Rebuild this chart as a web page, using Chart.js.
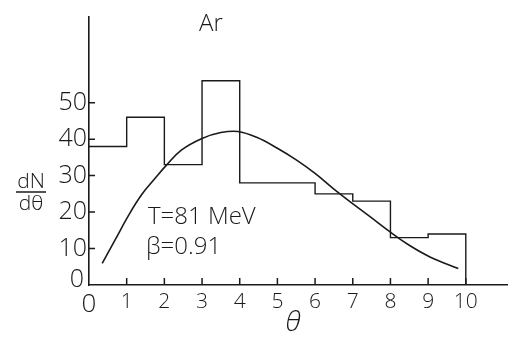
<!DOCTYPE html>
<html>
<head>
<meta charset="utf-8">
<script src="https://cdn.jsdelivr.net/npm/chart.js@4"></script>
<style>
  html, body { margin: 0; padding: 0; background: #fff; }
  canvas { display: block; }
</style>
</head>
<body>
<canvas id="chart" width="508" height="337"></canvas>
<script>
// histogram: counts per bin, bin i covers [i, i+1]
const binEdges = [0, 1, 2, 3, 4, 5, 6, 7, 8, 9, 10];
const counts = [38, 46, 33, 56, 28, 28, 25, 23, 13, 14];

// fitted curve
const curveX = [0.35, 0.7, 1.05, 1.4, 1.75, 2.05, 2.45, 3.0, 3.5, 3.95, 4.45, 5.0, 5.5, 6.0, 6.5, 7.05, 7.45, 8.0, 8.5, 9.05, 9.8];
const curveY = [5.9, 12.5, 19.1, 24.8, 29.2, 32.8, 37.0, 40.2, 41.8, 42.1, 40.5, 37.5, 34.3, 30.6, 26.3, 21.9, 18.8, 14.5, 10.9, 7.7, 4.5];

const xTicks = [0, 1, 2, 3, 4, 5, 6, 7, 8, 9, 10];
const yTicks = [0, 10, 20, 30, 40, 50];

const FONT = "'Open Sans', 'DejaVu Sans', sans-serif";
const W = 300;
const INK = '#1a1a1a';

const histPoints = counts.map((c, i) => ({ x: binEdges[i], y: c }));
histPoints.push({ x: binEdges[binEdges.length - 1], y: 0 });

const curvePoints = curveX.map((x, i) => ({ x, y: curveY[i] }));

// tick marks point into the plot, and the loose labels
const decor = {
  id: 'decor',
  afterDraw(chart) {
    const ctx = chart.ctx;
    const xs = chart.scales.x, ys = chart.scales.y;
    const x0 = xs.getPixelForValue(0), y0 = ys.getPixelForValue(0);
    ctx.save();
    ctx.strokeStyle = INK;
    ctx.lineWidth = 1.5;
    ctx.beginPath();
    xTicks.forEach(v => {
      if (v === 0) return;
      const px = xs.getPixelForValue(v);
      ctx.moveTo(px, y0);
      ctx.lineTo(px, y0 - 7);
    });
    yTicks.forEach(v => {
      if (v === 0) return;
      const py = ys.getPixelForValue(v);
      ctx.moveTo(x0, py);
      ctx.lineTo(x0 + 6, py);
    });
    ctx.stroke();

    ctx.fillStyle = INK;
    ctx.textBaseline = 'alphabetic';
    ctx.textAlign = 'right';
    // y "0" sits a little above the axis corner
    ctx.font = W + ' 25px ' + FONT;
    ctx.fillText('0', 84, 287);

    ctx.textAlign = 'left';
    ctx.font = W + ' 24px ' + FONT;
    ctx.fillText('Ar', 199, 31);
    ctx.fillText('T=81 MeV', 148, 224);
    ctx.fillText('\u03B2=0.91', 146, 254);

    ctx.font = W + ' 21px ' + FONT;
    ctx.textAlign = 'center';
    ctx.fillText('dN', 31, 188);
    ctx.fillText('d\u03B8', 31, 210);
    ctx.beginPath();
    ctx.lineWidth = 1.5;
    ctx.moveTo(16, 192);
    ctx.lineTo(46, 192);
    ctx.stroke();

    ctx.font = 'italic ' + W + ' 28px ' + FONT;
    ctx.fillText('\u03B8', 293, 331);
    ctx.restore();
  }
};

new Chart(document.getElementById('chart'), {
  type: 'line',
  data: {
    datasets: [
      {
        data: histPoints,
        stepped: 'before',
        borderColor: INK,
        borderWidth: 1.4,
        pointRadius: 0,
        fill: false
      },
      {
        data: curvePoints,
        borderColor: INK,
        borderWidth: 1.6,
        pointRadius: 0,
        tension: 0.4,
        fill: false
      }
    ]
  },
  options: {
    responsive: false,
    animation: false,
    devicePixelRatio: 1,
    layout: { padding: { top: 5, right: 0, bottom: 0, left: 0 } },
    plugins: { legend: { display: false }, tooltip: { enabled: false } },
    scales: {
      x: {
        type: 'linear',
        min: 0,
        max: 11.12,
        afterBuildTicks: s => { s.ticks = xTicks.map(v => ({ value: v })); },
        afterFit: s => { s.height = 52; },
        grid: { display: false, drawTicks: false },
        border: { display: true, color: INK, width: 1.6 },
        ticks: {
          padding: 4,
          color: INK,
          maxRotation: 0,
          autoSkip: false,
          font: c => ({ family: FONT, weight: W, size: c.tick && c.tick.value === 0 ? 26 : 21 })
        }
      },
      y: {
        type: 'linear',
        min: 0,
        max: 73.5,
        afterBuildTicks: s => { s.ticks = yTicks.map(v => ({ value: v })); },
        afterFit: s => { s.width = 89; },
        grid: { display: false, drawTicks: false },
        border: { display: true, color: INK, width: 1.6 },
        ticks: {
          padding: 2,
          color: INK,
          autoSkip: false,
          callback: v => (v === 0 ? '' : String(v)),
          font: { family: FONT, weight: W, size: 25 }
        }
      }
    }
  },
  plugins: [decor]
});
</script>
</body>
</html>
